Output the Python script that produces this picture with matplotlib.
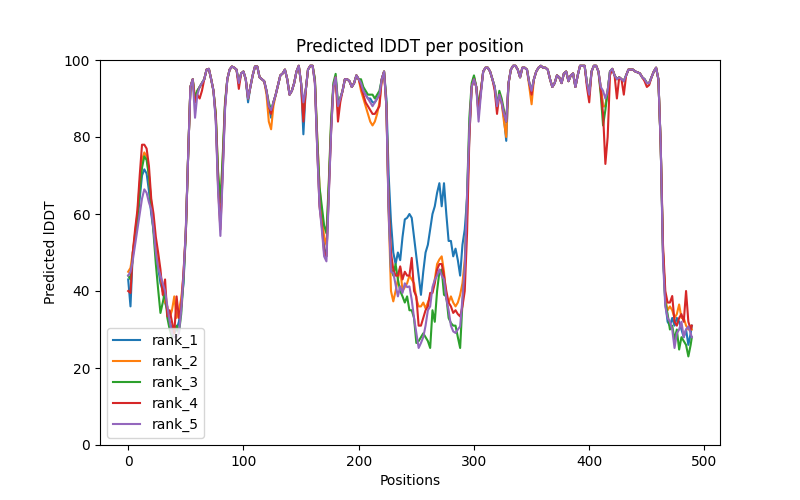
import matplotlib
matplotlib.use("Agg")
import matplotlib.pyplot as plt

# Residue positions (index axis) shared by all ranks
positions = list(range(0, 489, 2)) + [489]

# ---- values, by region ----
# region A: positions 0..50
r1_a = [43, 36, 50, 54, 58, 64, 70, 71.6, 70.5, 66, 60, 56, 50, 46, 42, 40, 37, 35, 32, 30, 29, 30, 32, 36, 42, 55]
r2_a = [45, 46, 50, 55, 60, 68, 74, 76, 75, 70, 63, 57, 52, 48, 44, 40, 37, 36, 33, 35, 38.6, 33, 35, 38, 44, 56]
r3_a = [44, 43, 49, 54, 59, 66, 72, 75, 74, 70, 62, 55, 47, 40.4, 34.3, 37, 40, 33, 30, 28, 30, 31, 29, 34, 43, 55]
r4_a = [40, 39.5, 50, 56, 61, 70, 78, 78, 77, 72.5, 64, 60, 54, 50, 45.6, 39, 43, 33.4, 35, 32, 29, 38.6, 33, 36, 45, 55]
r5_a = [44, 45, 48, 52, 56, 60, 64, 66.4, 65.5, 63, 61.2, 56, 50, 46, 44, 42, 40, 36, 32, 29, 28, 28, 29, 35, 44, 56]

# region B: positions 52..222
r1_b = [75, 93, 95, 89, 92, 93, 94, 95, 97.5, 97.7, 95, 92, 85, 68, 58, 72, 88, 95, 97.5, 98.3,
        98, 97.5, 94, 96.5, 97, 95, 89, 93, 96, 98.3, 98.3, 95.5, 95, 94.5, 92, 88, 85, 89, 91, 93.5,
        96, 96.5, 97.5, 95, 91, 92, 94, 97, 98.5, 94, 80.7, 92, 97.5, 98.5, 98.5, 94.5, 78, 63, 58, 51,
        49, 66, 82, 93, 95.5, 88, 90, 92, 95, 95, 94.5, 93, 94, 96, 95, 94, 92, 91, 90, 90,
        89, 89, 90, 91, 95, 97]
r2_b = [75, 93, 95, 90, 92, 93, 94, 95, 97.5, 97.7, 95, 92, 86, 70, 61, 74, 88, 95, 97.5, 98.3,
        98, 97.5, 94, 96.5, 97, 95, 90, 93, 96, 98.3, 98.3, 95.5, 95, 94.5, 91, 84, 82, 88, 91, 93.5,
        96, 96.5, 97.5, 95, 91, 92, 94, 97, 98.5, 94, 85, 92, 97.5, 98.5, 98.5, 95, 80, 67, 60, 54,
        52, 67, 83, 93, 95.5, 87, 90, 92, 95, 95, 94.5, 93, 94, 96, 95, 92, 90, 88, 86, 84,
        83, 84, 86, 89, 95, 97]
r3_b = [75, 93, 95, 90, 92, 93, 94, 95, 97.5, 97.7, 95, 92, 86, 71, 63, 75, 89, 95, 97.5, 98.3,
        98, 97.5, 94, 96.5, 97, 95, 90, 93, 96, 98.3, 98.3, 95.5, 95, 94.5, 92, 89, 87, 89, 91, 93.5,
        96, 96.5, 97.5, 95, 91, 92, 94, 97, 98.5, 94, 88, 92, 97.5, 98.5, 98.5, 95, 80, 67, 62, 57,
        55, 68, 84, 94, 96.4, 89, 90, 92, 95, 95, 94.5, 93, 94, 96, 95, 95, 93, 92, 91, 91,
        91, 90, 91, 92, 95, 97]
r4_b = [75, 93, 95, 89, 91, 90, 92, 95, 97.5, 97.7, 95, 92, 85, 67, 56, 71, 88, 95, 97.5, 98.3,
        98, 97.5, 92.5, 96.5, 97, 95, 90, 93, 96, 98.3, 98.3, 95.5, 95, 94.5, 92, 88, 86, 89, 91, 93.5,
        96, 96.5, 97.5, 95, 91, 92, 94, 97, 98.5, 94, 84, 92, 97.5, 98.5, 98.5, 94, 77, 62, 57, 50,
        49, 65, 81, 93, 95.5, 84, 89, 92, 95, 95, 94.5, 93, 94, 96, 95, 93, 91, 89, 88, 87,
        86, 86, 87, 88, 95, 97]
r5_b = [75, 93, 95, 85, 91, 93, 94, 95, 97.5, 97.7, 95, 92, 84, 66, 54.3, 70, 87, 95, 97.5, 98.3,
        98, 97.5, 94, 96.5, 97, 95, 90, 93, 96, 98.3, 98.3, 95.5, 95, 94.5, 92, 88, 87, 89, 91, 93.5,
        96, 96.5, 97.5, 95, 91, 92, 94, 97, 98.5, 94, 89, 92, 97.5, 98.5, 98.5, 94, 77, 62, 56, 49,
        47.7, 64, 81, 93, 95.5, 88, 90, 92, 95, 95, 94.5, 93, 94, 96, 95, 94, 92, 91, 90, 89,
        88, 89, 90, 91, 95, 97]

# region C: positions 224..298
r1_c = [90, 70, 58, 50, 47, 50, 48, 54, 58.6, 59, 60, 59, 54, 49, 44, 39, 45, 50, 52, 56,
        60, 62, 65.5, 68, 62, 68, 60, 53, 53, 49, 51, 48, 44, 52, 56, 64, 80, 93]
r2_c = [88, 60, 40, 37.3, 40, 43, 46, 40, 41, 42, 44, 43, 42, 38, 36, 36, 37, 35.5, 37, 38.6,
        40, 43, 47, 48.2, 49, 45, 38, 37, 38.6, 37, 36, 37, 39, 42, 48, 60, 82, 93]
r3_c = [89, 62, 46, 44, 47, 43, 40, 38.6, 37, 38.6, 35, 35, 33, 26.5, 27, 28, 29, 28, 27, 25.2,
        35, 32, 40, 45, 45.6, 39, 38.6, 33, 31.7, 31, 31, 28, 25.2, 37, 45, 65, 85, 94]
r4_c = [88, 62, 50, 45.6, 44, 44, 46.4, 43, 45, 44, 44, 48.6, 40, 38.6, 31, 31, 33, 35, 36, 39.5,
        39.5, 42, 45.6, 47, 47, 44, 40, 37, 36, 34.3, 35, 34, 33.4, 36, 40, 55, 80, 93]
r5_c = [88, 60, 45, 44.7, 41.6, 38.6, 41.2, 39.5, 42, 41, 41.2, 37.7, 33, 29.1, 25.2, 26.5, 28, 31, 35, 36,
        41, 42.9, 44, 45.6, 44, 43, 38, 35, 31, 29.5, 29.1, 30, 30.8, 38, 46, 65, 82, 93]

# region D: positions 300..462
r1_d = [95.5, 93, 87, 92, 97, 98, 98, 97, 95, 93, 88, 91, 89, 85, 79, 94, 97.5, 98.5, 98.5, 97.5,
        95.5, 98, 98, 97.5, 94, 92, 95, 97, 98, 98.5, 98, 98, 97.5, 95, 93, 94, 96, 95.5, 94, 96.5,
        97, 94.5, 96, 96.5, 93, 96, 98.5, 98.5, 98.5, 94, 91, 97, 98.5, 98.5, 97, 93, 88, 88, 92, 97,
        97.7, 96, 95, 95.5, 95, 94.5, 96, 97.5, 97.5, 97.5, 97, 96.8, 96.5, 95.5, 95, 94, 94, 95.5, 97, 98,
        95, 78]
r2_d = [95.5, 93, 86, 92, 97, 98, 98, 97, 95, 93, 88, 91, 89, 84, 80, 94, 97.5, 98.5, 98.5, 97.5,
        95.5, 98, 98, 97.5, 93, 88.5, 95, 97, 98, 98.5, 98, 98, 97.5, 95, 93, 94, 96, 95.5, 94, 96.5,
        97, 94.5, 96, 96.5, 93, 96, 98.5, 98.5, 98.5, 94, 91, 97, 98.5, 98.5, 97, 93, 88, 88, 92, 97,
        97.7, 96, 95, 95.5, 95, 94.5, 96, 97.5, 97.5, 97.5, 97, 96.8, 96.5, 95.5, 95, 94, 94, 95.5, 97, 98,
        95, 78]
r3_d = [96, 93, 88, 92, 97, 98, 98, 97, 95, 93, 88, 92, 90, 87, 84, 94, 97.5, 98.5, 98.5, 97.5,
        95.5, 98, 98, 97.5, 94, 92, 95, 97, 98, 98.5, 98, 98, 97.5, 95, 93, 94, 96, 95.5, 94, 96.5,
        97, 94.5, 96, 96.5, 93, 96, 98.5, 98.5, 98.5, 94, 91, 97, 98.5, 98.5, 97, 91, 83, 87, 92, 97,
        97.7, 96, 95, 95.5, 95, 94.5, 96, 97.5, 97.5, 97.5, 97, 96.8, 96.5, 95.5, 95, 94, 94, 95.5, 97, 98,
        95, 78]
r4_d = [95, 93, 86, 92, 97, 98, 98, 97, 95, 92, 86, 91, 89, 86, 84, 94, 97.5, 98.5, 98.5, 97.5,
        95.5, 98, 98, 97.5, 94, 91, 95, 97, 98, 98.5, 98, 98, 97.5, 95, 93, 94, 96, 95.5, 94, 96.5,
        97, 94.5, 96, 96.5, 93, 96, 98.5, 98.5, 98.5, 93, 89, 97, 98.5, 98.5, 97, 92, 86, 73, 80, 96,
        97.7, 96, 90, 95.5, 95, 91, 96, 97.5, 97.5, 97.5, 97, 96.8, 96.5, 95.5, 94.5, 93, 93.5, 95.5, 97, 98,
        95, 78]
r5_d = [95, 93, 84, 91, 97, 98, 98, 97, 95, 93, 88, 91, 89, 86, 84, 94, 97.5, 98.5, 98.5, 97.5,
        95.5, 98, 98, 97.5, 94, 92, 95, 97, 98, 98.5, 98, 98, 97.5, 95, 93, 94, 96, 95.5, 94, 96.5,
        97, 94.5, 96, 96.5, 93, 96, 98.5, 98.5, 98.5, 94, 91, 97, 98.5, 98.5, 97, 93, 92, 90, 92, 97,
        97.7, 96, 95, 95.5, 95, 94.5, 96, 97.5, 97.5, 97.5, 97, 96.8, 96.5, 95.5, 95, 94, 94, 95.5, 97, 98,
        95, 78]

# region E: positions 464..488, 489
r1_e = [50, 37, 32, 31, 33, 31, 33, 32, 30, 28, 30, 26, 29, 31]
r2_e = [50, 38, 35, 36, 35, 33, 34, 36.5, 33, 33, 31, 30, 31, 30]
r3_e = [50, 37, 34, 30, 31, 27.4, 30, 24.8, 28, 27, 26, 23, 26, 28]
r4_e = [52, 40, 37, 37, 38.7, 32, 31, 33, 34, 32, 40, 32, 30, 31]
r5_e = [48, 36, 33, 32, 30, 25.2, 29, 30, 32, 28, 30, 30.8, 29, 28]

rank_1 = r1_a + r1_b + r1_c + r1_d + r1_e
rank_2 = r2_a + r2_b + r2_c + r2_d + r2_e
rank_3 = r3_a + r3_b + r3_c + r3_d + r3_e
rank_4 = r4_a + r4_b + r4_c + r4_d + r4_e
rank_5 = r5_a + r5_b + r5_c + r5_d + r5_e

labels = ["rank_1", "rank_2", "rank_3", "rank_4", "rank_5"]
series = [rank_1, rank_2, rank_3, rank_4, rank_5]

fig, ax = plt.subplots(figsize=(8, 5), dpi=100)
for lab, vals in zip(labels, series):
    n = min(len(vals), len(positions))
    ax.plot(positions[:n], vals[:n], label=lab)
ax.set_ylim(0, 100)
ax.set_title("Predicted lDDT per position")
ax.set_xlabel("Positions")
ax.set_ylabel("Predicted lDDT")
ax.legend(loc="lower left")
fig.savefig("out.png", dpi=100)
